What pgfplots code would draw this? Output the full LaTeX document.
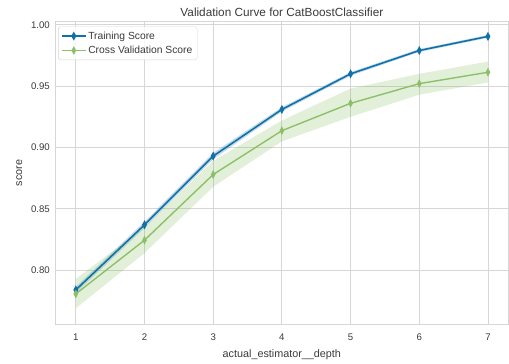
\documentclass[border=0pt]{standalone}
\usepackage{fontspec}
\setmainfont{Liberation Sans}
\usepackage{pgfplots}
\pgfplotsset{compat=1.18}
\usepgfplotslibrary{fillbetween}
\usepackage{pgfplotstable}
\definecolor{tblue}{HTML}{1070A8}
\definecolor{cgreen}{HTML}{8DBE68}
\definecolor{gridc}{HTML}{D6D6D6}
\definecolor{txt}{HTML}{3A3A3A}
\pgfplotstableread{
x train tlo thi cv cvlo cvhi
1 0.784 0.7815 0.7865 0.7807 0.769 0.793
2 0.837 0.8345 0.8395 0.8245 0.814 0.835
3 0.893 0.8905 0.8955 0.878 0.868 0.889
4 0.931 0.9292 0.9328 0.9137 0.905 0.922
5 0.960 0.9585 0.9615 0.936 0.925 0.948
6 0.979 0.9778 0.9802 0.952 0.943 0.960
7 0.9905 0.9893 0.9917 0.9613 0.953 0.970
}\datatable
\begin{document}
\begin{tikzpicture}
\begin{axis}[
  at={(0,0)}, anchor=south west,
  scale only axis, width=460bp, height=307bp,
  xmin=0.7, xmax=7.3, ymin=0.756, ymax=1.0025,
  xtick={1,...,7},
  ytick={0.80,0.85,0.90,0.95,1.00},
  yticklabel style={/pgf/number format/fixed,/pgf/number format/fixed zerofill,/pgf/number format/precision=2},
  /pgf/number format/assume math mode=true,
  tick style={draw=none},
  grid=major, major grid style={gridc, line width=0.8pt},
  axis line style={gridc, line width=0.9pt},
  ticklabel style={font=\fontsize{9.8}{11}\selectfont, text=txt},
  xticklabel style={yshift=-6bp},
  yticklabel style={xshift=-2bp},
  xlabel={actual\_estimator\_\_depth},
  ylabel={score},
  label style={font=\fontsize{11}{13}\selectfont, text=txt},
  xlabel style={yshift=-3bp},
  ylabel style={yshift=2bp},
  title={Validation Curve for CatBoostClassifier},
  title style={font=\fontsize{12}{14}\selectfont, text=txt, yshift=-4bp},
  legend style={at={(0.0065,0.984)}, anchor=north west, draw=gridc, rounded corners=2pt,
    fill=white, fill opacity=0.8, text opacity=1, font=\fontsize{10.5}{13}\selectfont, text=txt,
    row sep=1.5pt, inner sep=3pt},
  legend cell align=left,
  legend image code/.code={\draw[mark repeat=2,mark phase=2,#1] plot coordinates {(0cm,0cm) (0.42cm,0cm) (0.84cm,0cm)};},
]
\addplot[name path=tl, draw=none, forget plot] table[x=x,y=tlo]{\datatable};
\addplot[name path=th, draw=none, forget plot] table[x=x,y=thi]{\datatable};
\addplot[tblue, fill opacity=0.25, forget plot] fill between[of=tl and th];
\addplot[name path=cl, draw=none, forget plot] table[x=x,y=cvlo]{\datatable};
\addplot[name path=ch, draw=none, forget plot] table[x=x,y=cvhi]{\datatable};
\addplot[cgreen, fill opacity=0.25, forget plot] fill between[of=cl and ch];
\addplot[tblue, line width=1.6pt, mark=diamond*, mark size=3pt, mark options={xscale=0.7, solid}] table[x=x,y=train]{\datatable};
\addlegendentry{Training Score}
\addplot[cgreen, line width=1.4pt, mark=diamond*, mark size=3pt, mark options={xscale=0.7, solid}] table[x=x,y=cv]{\datatable};
\addlegendentry{Cross Validation Score}
\end{axis}
\path[use as bounding box] (-56bp,-33bp) rectangle (453bp,329bp);
\end{tikzpicture}
\end{document}
